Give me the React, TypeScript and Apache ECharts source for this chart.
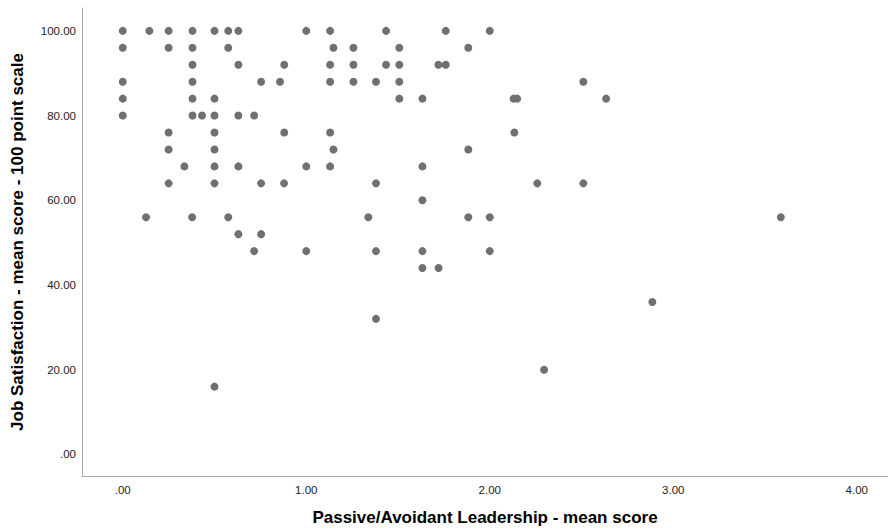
import React, { useEffect, useRef } from "react";
import * as echarts from "echarts";

// Passive/Avoidant Leadership mean score (x) and Job Satisfaction (y), one entry per respondent
const leadershipScores: number[] = [
  // y = 100
  0, 0.145, 0.25, 0.38, 0.5, 0.575, 0.63, 1.0, 1.13, 1.435, 1.76, 2.0,
  // y = 96
  0, 0.25, 0.38, 0.575, 1.148, 1.257, 1.507, 1.883,
  // y = 92
  0.38, 0.63, 0.88, 1.13, 1.257, 1.435, 1.507, 1.72, 1.76,
  // y = 88
  0, 0.38, 0.754, 0.857, 1.13, 1.257, 1.38, 1.507, 2.51,
  // y = 84
  0, 0.38, 0.5, 1.507, 1.633, 2.13, 2.149, 2.634,
  // y = 80
  0, 0.38, 0.432, 0.5, 0.63, 0.716,
  // y = 76
  0.25, 0.5, 0.88, 1.13, 2.134,
  // y = 72
  0.25, 0.5, 1.148, 1.883,
  // y = 68
  0.336, 0.5, 0.63, 1.0, 1.13, 1.633,
  // y = 64
  0.25, 0.5, 0.754, 0.879, 1.38, 2.259, 2.51,
  // y = 60
  1.633,
  // y = 56
  0.127, 0.378, 0.575, 1.338, 1.883, 2.0, 3.586,
  // y = 52
  0.63, 0.754,
  // y = 48
  0.716, 1.0, 1.38, 1.633, 2.0,
  // y = 44
  1.633, 1.721,
  // y = 36
  2.886,
  // y = 32
  1.38,
  // y = 20
  2.296,
  // y = 16
  0.5,
];

const satisfactionScores: number[] = [
  100, 100, 100, 100, 100, 100, 100, 100, 100, 100, 100, 100,
  96, 96, 96, 96, 96, 96, 96, 96,
  92, 92, 92, 92, 92, 92, 92, 92, 92,
  88, 88, 88, 88, 88, 88, 88, 88, 88,
  84, 84, 84, 84, 84, 84, 84, 84,
  80, 80, 80, 80, 80, 80,
  76, 76, 76, 76, 76,
  72, 72, 72, 72,
  68, 68, 68, 68, 68, 68,
  64, 64, 64, 64, 64, 64, 64,
  60,
  56, 56, 56, 56, 56, 56, 56,
  52, 52,
  48, 48, 48, 48, 48,
  44, 44,
  36,
  32,
  20,
  16,
];

const xTicks: number[] = [0, 1, 2, 3, 4];
const yTicks: number[] = [0, 20, 40, 60, 80, 100];

const xTitle = "Passive/Avoidant Leadership - mean score";
const yTitle = "Job Satisfaction - mean score - 100 point scale";

const fmt = (v: number) => (v === 0 ? ".00" : v.toFixed(2));

export default function App() {
  const ref = useRef<HTMLDivElement>(null);

  useEffect(() => {
    if (!ref.current) return;
    const chart = echarts.init(ref.current, undefined, { renderer: "svg" });
    const points = leadershipScores.map((x, i) => [x, satisfactionScores[i]]);
    const font = "'Liberation Sans', Arial, sans-serif";
    chart.setOption({
      animation: false,
      backgroundColor: "#ffffff",
      grid: { left: 82, right: 0, top: 8, bottom: 53, containLabel: false },
      xAxis: {
        type: "value",
        min: -0.222,
        max: 4.17,
        name: xTitle,
        nameLocation: "middle",
        nameGap: 33,
        nameTextStyle: { fontFamily: font, fontWeight: "bold", fontSize: 17, color: "#000" },
        axisLine: { show: true, onZero: false, lineStyle: { color: "#a8a8a8", width: 1 } },
        axisTick: { show: false },
        splitLine: { show: false },
        axisLabel: {
          customValues: xTicks,
          formatter: fmt,
          fontFamily: font,
          fontSize: 11.5,
          color: "#222",
          margin: 8,
        },
      },
      yAxis: {
        type: "value",
        min: -5.1,
        max: 105.4,
        name: yTitle,
        nameLocation: "middle",
        nameGap: 56,
        nameTextStyle: { fontFamily: font, fontWeight: "bold", fontSize: 17, color: "#000" },
        axisLine: { show: true, onZero: false, lineStyle: { color: "#a8a8a8", width: 1 } },
        axisTick: { show: false },
        splitLine: { show: false },
        axisLabel: {
          customValues: yTicks,
          formatter: fmt,
          fontFamily: font,
          fontSize: 11.5,
          color: "#222",
          margin: 6,
        },
      },
      series: [
        {
          type: "scatter",
          data: points,
          symbol: "circle",
          symbolSize: 8,
          itemStyle: { color: "#707070", opacity: 1 },
          emphasis: { disabled: true },
        },
      ],
    });
    return () => chart.dispose();
  }, []);

  return (
    <div
      ref={ref}
      style={{ position: "fixed", left: 0, top: 0, width: 888, height: 531, background: "#fff" }}
    />
  );
}
